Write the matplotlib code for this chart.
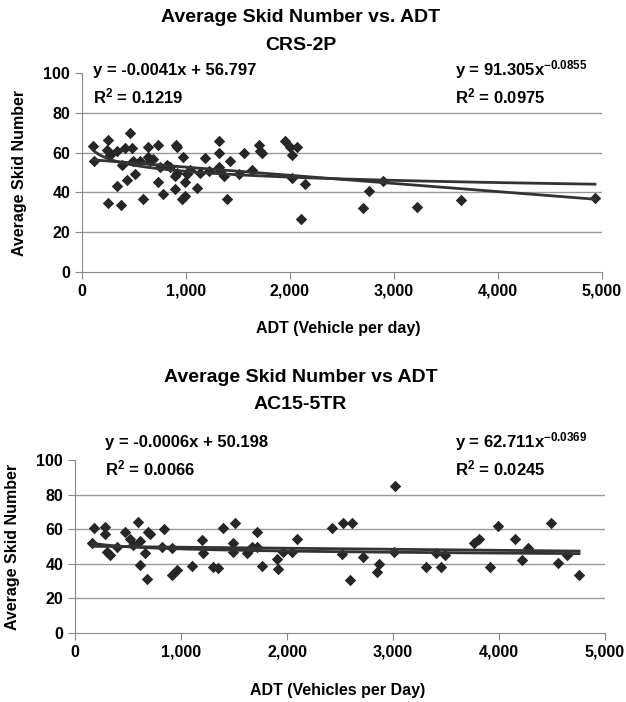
import numpy as np
import matplotlib
matplotlib.use("Agg")
from matplotlib import pyplot as plt
from matplotlib.ticker import FuncFormatter

plt.rcParams['font.family'] = ['Liberation Sans', 'DejaVu Sans']
plt.rcParams['font.weight'] = 'bold'
plt.rcParams['mathtext.default'] = 'regular'

# CRS-2P data (ADT, average skid number)
crs_adt = [109, 120, 247, 237, 270, 334, 247, 376, 430, 462, 414, 478, 494, 510, 382,
           334, 591, 639, 639, 655, 735, 735, 751, 783, 815, 905, 911, 975, 895, 895,
           959, 991, 911, 991, 1007, 1104, 1136, 1185, 1313, 1313, 1313, 1329, 1361,
           1393, 1425, 1505, 1554, 1634, 1698, 1730, 1714, 1955, 2003, 2019, 2067,
           2019, 2148, 2106, 558, 687, 847, 1039, 1217,
           2704, 2759, 2897, 3218, 3648, 4932]
crs_sn = [63.2, 56, 66.5, 61.5, 59, 43, 34.5, 33.7, 46, 69.8, 62.3, 62.3, 55.7, 49, 54,
          60.7, 36.5, 63, 58, 55.7, 64, 45, 53, 39, 54, 64, 63, 58, 48.2, 41.5,
          36.5, 38, 50, 45, 49, 42, 50, 57.3, 65.7, 60, 53, 50.7, 48,
          36.5, 55.7, 49, 60, 51.5, 64, 59.7, 61, 65.7, 63, 59, 63,
          47.3, 44, 26.5, 56, 57, 53, 51.5, 51,
          32, 40.7, 45.7, 32.8, 36, 37.3]

# AC15-5TR data
ac_adt = [163, 182, 283, 283, 299, 330, 393, 472, 519, 550, 597, 613, 660, 613, 692,
          708, 682, 817, 840, 912, 912, 959, 1101, 1201, 1204, 1305, 1352, 1399, 1509,
          1494, 1494, 1620, 1667, 1720, 1714, 1761, 1903, 1918, 1965, 2044, 2091, 2421,
          2525, 2516, 2610, 2594, 3019, 2714, 2852, 2868, 3013, 3308, 3406, 3449, 3490,
          3764, 3811, 3915, 3993, 4151, 4214, 4277, 4488, 4560, 4639, 4755]
ac_sn = [52.2, 60.5, 61.5, 57, 47, 45, 50, 58.5, 54.6, 51, 64.3, 53.3, 46, 39.3, 58.5,
         57.5, 31, 50, 59.9, 48.9, 33.5, 36.4, 38.9, 54, 46, 38.3, 37.3, 60.5, 63.3,
         51.8, 47, 46, 50, 58.5, 50, 38.7, 42.6, 36.8, 47, 47, 54.2, 60.9,
         63.3, 45.7, 63.6, 30.6, 85.2, 44.1, 35.5, 39.9, 47, 38, 46.4, 38, 45,
         52.2, 54.6, 38, 61.7, 54.6, 42.1, 48.9, 63.6, 40.6, 45, 33.5]

crs_lin = (-0.0041, 56.797)
crs_pow = (91.305, -0.0855)
ac_lin = (-0.0006, 50.198)
ac_pow = (62.711, -0.0369)

W, H = 626, 702
fig = plt.figure(figsize=(W / 100, H / 100), dpi=100)


def fx(px):
    return px / W


def fy(py):
    return 1 - py / H


def panel(rect, adt, sn, lin, pw, title, sub, eq1, r1, eq2, r2, xlabel,
          title_y, eq_y, eq1_x, xl_y):
    ax = fig.add_axes(rect)
    adt = np.array(adt)
    sn = np.array(sn)
    for g in [20, 40, 60, 80]:
        ax.axhline(g, color='#999999', lw=1, zorder=0)
    ax.scatter(adt, sn, marker='D', s=34, color='#262626', zorder=3, linewidths=0)
    xs = np.linspace(adt.min(), adt.max(), 200)
    ax.plot(xs, lin[0] * xs + lin[1], color='#333333', lw=2, zorder=4)
    ax.plot(xs, pw[0] * xs ** pw[1], color='#333333', lw=2, zorder=4)
    ax.set_xlim(0, 5000)
    ax.set_ylim(0, 100)
    ax.set_xticks(np.arange(0, 5001, 1000))
    ax.set_yticks(np.arange(0, 101, 20))
    ax.xaxis.set_major_formatter(FuncFormatter(lambda v, p: f"{int(v):,}"))
    for s in ['top', 'right']:
        ax.spines[s].set_visible(False)
    for s in ['left', 'bottom']:
        ax.spines[s].set_color('#888888')
    ax.tick_params(colors='#888888', labelcolor='black', labelsize=11.5, length=5)
    for lab in ax.get_xticklabels() + ax.get_yticklabels():
        lab.set_fontweight('bold')
    ax.set_ylabel('Average Skid Number', fontsize=11.5, fontweight='bold', labelpad=12)
    fig.text(0.48, fy(title_y), title, ha='center', va='center', fontsize=14, fontweight='bold')
    fig.text(0.48, fy(title_y + 27), sub, ha='center', va='center', fontsize=14, fontweight='bold')
    fig.text(fx(eq1_x), fy(eq_y), eq1, ha='left', va='center', fontsize=12, fontweight='bold')
    fig.text(fx(eq1_x), fy(eq_y + 26), r1, ha='left', va='center', fontsize=12, fontweight='bold')
    fig.text(fx(455), fy(eq_y), eq2, ha='left', va='center', fontsize=12, fontweight='bold')
    fig.text(fx(455), fy(eq_y + 26), r2, ha='left', va='center', fontsize=12, fontweight='bold')
    fig.text(0.54, fy(xl_y), xlabel, ha='center', va='center', fontsize=11.5, fontweight='bold')
    return ax


panel([fx(82), fy(272), 520 / W, 199 / H], crs_adt, crs_sn, crs_lin, crs_pow,
      'Average Skid Number vs. ADT', 'CRS-2P',
      'y = -0.0041x + 56.797', r'R$^2$ = 0.1219',
      r'y = 91.305x$^{-0.0855}$', r'R$^2$ = 0.0975',
      'ADT (Vehicle per day)', 18, 70, 93, 328)

panel([fx(75), fy(633), 530 / W, 173 / H], ac_adt, ac_sn, ac_lin, ac_pow,
      'Average Skid Number vs ADT', 'AC15-5TR',
      'y = -0.0006x + 50.198', r'R$^2$ = 0.0066',
      r'y = 62.711x$^{-0.0369}$', r'R$^2$ = 0.0245',
      'ADT (Vehicles per Day)', 378, 442, 105, 690)

fig.savefig('out.png', dpi=100)
